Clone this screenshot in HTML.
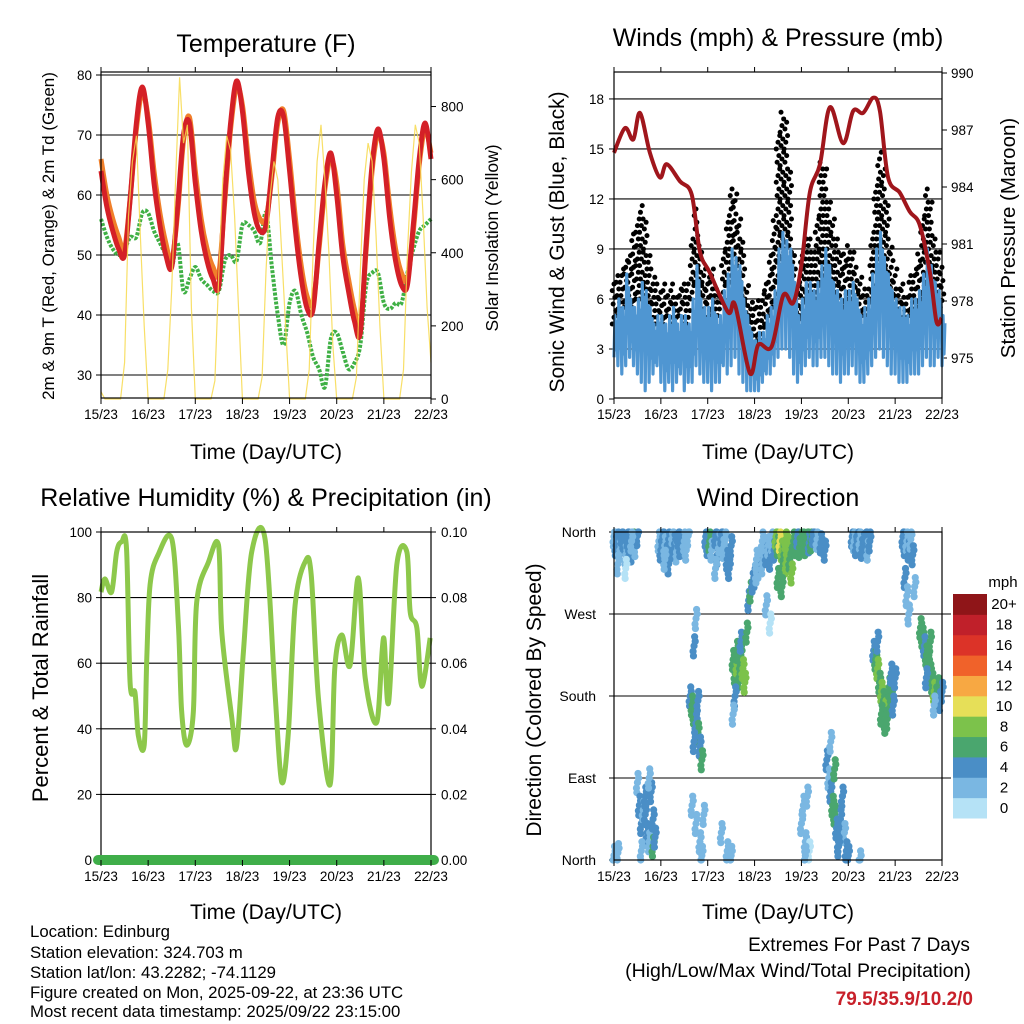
<!DOCTYPE html>
<html><head><meta charset="utf-8"><style>
body{margin:0;background:#fff;}
svg{display:block;font-family:"Liberation Sans",sans-serif;}
</style></head><body>
<svg id="s" width="1024" height="1024" viewBox="0 0 1024 1024">
<text x="266" y="52" font-size="25" text-anchor="middle">Temperature (F)</text>
<text x="778" y="46" font-size="25" text-anchor="middle">Winds (mph) &amp; Pressure (mb)</text>
<text x="266" y="506" font-size="25" text-anchor="middle">Relative Humidity (%) &amp; Precipitation (in)</text>
<text x="778" y="506" font-size="25" text-anchor="middle">Wind Direction</text>
<text x="266" y="459" font-size="21" text-anchor="middle">Time (Day/UTC)</text>
<text x="778" y="459" font-size="21" text-anchor="middle">Time (Day/UTC)</text>
<text x="266" y="919" font-size="21" text-anchor="middle">Time (Day/UTC)</text>
<text x="778" y="919" font-size="21" text-anchor="middle">Time (Day/UTC)</text>
<text transform="translate(54,236) rotate(-90)" font-size="17" text-anchor="middle">2m &amp; 9m T (Red, Orange) &amp; 2m Td (Green)</text>
<text transform="translate(498,238) rotate(-90)" font-size="17.5" text-anchor="middle">Solar Insolation (Yellow)</text>
<text transform="translate(564,242) rotate(-90)" font-size="21" text-anchor="middle">Sonic Wind &amp; Gust (Blue, Black)</text>
<text transform="translate(1015,238) rotate(-90)" font-size="20.5" text-anchor="middle">Station Pressure (Maroon)</text>
<text transform="translate(48,688) rotate(-90)" font-size="22" text-anchor="middle">Percent &amp; Total Rainfall</text>
<text transform="translate(541,700) rotate(-90)" font-size="21" text-anchor="middle">Direction (Colored By Speed)</text>
<g font-size="16.8">
<text x="30" y="937">Location: Edinburg</text>
<text x="30" y="958">Station elevation: 324.703 m</text>
<text x="30" y="978">Station lat/lon: 43.2282; -74.1129</text>
<text x="30" y="998">Figure created on Mon, 2025-09-22, at 23:36 UTC</text>
<text x="30" y="1017">Most recent data timestamp: 2025/09/22 23:15:00</text>
</g>
<text x="859" y="951" font-size="19" text-anchor="middle">Extremes For Past 7 Days</text>
<text x="798" y="977" font-size="19.5" text-anchor="middle">(High/Low/Max Wind/Total Precipitation)</text>
<text x="973" y="1005" font-size="19" font-weight="bold" fill="#c8202a" text-anchor="end">79.5/35.9/10.2/0</text>
<text x="1003" y="587" font-size="15" text-anchor="middle">mph</text>
</svg>
<script>
const dayLabels=["15/23","16/23","17/23","18/23","19/23","20/23","21/23","22/23"];
const tempTicks=[30,40,50,60,70,80];
const solarTicks=[0,200,400,600,800];
const windTicks=[0,3,6,9,12,15,18];
const presTicks=[975,978,981,984,987,990];
const rhTicks=[0,20,40,60,80,100];
const rainTickLabels=["0.00","0.02","0.04","0.06","0.08","0.10"];
const dirTicks=[0,90,180,270,360];
const dirTickLabels=["North","East","South","West","North"];
const legendLabels=["0","2","4","6","8","10","12","14","16","18","20+"];
const legendColors=["#b5e2f6","#7ab7e2","#4a8ec6","#4aa66e","#7cc24b","#e6df58","#f7a843","#f0622a","#dc3328","#c0202a","#8f1518"];
const tempRed=[64,58,54,51,50,60,72,78,72,62,55,50,48,58,70,72,62,54,49,46,45,60,72,79,74,64,57,54,55,64,73,73,64,54,46,41,41,52,62,67,60,50,44,39,37,52,65,71,66,56,49,45,45,55,66,72,66];
const tempOrange=[66,60,56,53,51,60,71,77,73,64,57,52,49,57,69,73,64,56,51,48,47,59,71,78,75,66,59,56,56,63,72,74,66,56,48,43,42,51,61,66,62,52,46,41,38,51,64,70,67,58,51,47,46,54,65,71,67];
const dewGreen=[56,53,51,50,51,53,53,57,57,54,52,50,48,52,44,46,48,46,45,44,44,49,50,49,55,55,54,52,57,48,40,35,42,44,40,37,33,31,28,36,37,34,31,32,35,45,47,47,42,41,42,42,47,51,54,55,56];
const solar=[20,0,0,0,0,0,100,500,650,720,450,200, 0,0,0,0,0,80,300,600,880,700,750,250, 0,0,0,0,0,50,350,600,720,680,500,250, 0,0,0,0,0,60,350,550,650,600,400,200, 0,0,0,0,0,80,400,650,750,600,400,150, 0,0,0,0,0,60,350,600,700,650,450,200, 0,0,0,0,0,80,400,620,750,700,500,250, 100];
const blueLo=[2.5,2,1.5,2,2.5,2, 1.5,1,0.5,1,1.5,2, 1,0.5,1,0.5,1,1.5, 0.5,1,1,2,1.5,1, 1,0.5,1,1,2,1.5, 2,2.5,1.5,1,0.5,0.5, 0.5,0.5,1,1.5,1.5,2, 2.5,3,3,2.5,1.5,1, 1.5,2,2.5,2,2,2.5, 2.5,2,1.5,1.5,1,1.5, 1.5,2,1.5,1,1,1.5, 2,2.5,3,2.5,2,1.5, 1.5,1,1,1,1.5,1.5, 1.5,2,2.5,2,2,2.5,2];
const blueHi=[5,6,5.5,7.5,6,5.5, 6,7,6.5,5.5,4.5,5, 5,4.5,5,5.5,4.5,5, 5,4.5,6,8,6,5.5, 5.5,6,5,5,6.5,7.5, 9,8.5,8,6,5,4, 3.5,4,4,5,5.5,6.5, 9,10,9.5,9,7,5, 6,7,7,6.5,7,8, 9,8,7,6.5,6,6.5, 6.5,7,6,5,5.5,6, 7.5,9,10,8.5,7.5,6.5, 6,5.5,5.5,5,6,6, 6.5,7.5,9,8,7,6.5,5];
const gustLo=[4.5,5,5,5.5,5,5.5, 6,6,5,5,4.5,4.5, 4,4.5,5,4.5,4.5,5, 4.5,4.5,6,7,6,5, 4.5,5,5,5,6,7, 7,7.5,6,5,4,3, 3,3.5,3.5,4.5,5,5.5, 7,8,9,8,5,4, 5,6,6,6,6,7, 7,7,6,6,5,5.5, 6,6,5.5,4.5,5,5, 6,8,8,7,6,5.5, 5,5,4.5,4.5,5,5, 5.5,6,7,7,6,6,5.5];
const gustHi=[7,7.5,8,8.5,9,10, 11,12,11,9,7.5,7, 6.5,7,6.5,7,6.5,7, 7,7,10,11.5,9.5,8, 7.5,8,7,6.5,9,11, 13,12.5,11,9.5,7,6, 5.5,6,6.5,7,9,11, 16,17.5,17,14,9,7, 9,10,10,9,11,14.5, 14,12,11,10,9,9, 9.5,9,8,7.5,7,7, 10,13,15,14,12,9.5, 8,7,7,6.5,7.5,8, 9,11,13,12,10,9,8];
const presHours=[0,5.6,9.9,13.3,18.4,23.5,27,33.8,39.8,44,49,58.5,62,69.6,73.9,80.7,86.7,91.8,96,100.3,105.5,110.6,117.4,122.5,127.6,132.8,136.2,140.4,146.4,151.5,156.6,161.8,165.2,167.7];
const presVals=[985.8,987.1,986.5,987.9,985.8,984.5,985.2,984.3,983.6,980.6,979.5,977.4,977.8,974.2,975.7,975.6,978.3,977.9,979.9,983.7,985.2,988.2,986.3,988,987.9,988.7,988,984.5,983.7,982.7,982,979.5,976.9,977.1];
const rhHours=[0,2,5.4,8,10.5,13,14.8,17.3,19,22,23.3,25,29,36,39.4,41,43.6,47,48.7,54.7,59.8,61.5,66.6,69,72.5,76.7,83.5,88.6,92,95.4,98.8,104,107,110.7,116.6,119,122.6,126.8,131,134.5,140.4,143.8,146.4,150.6,155.7,157.4,160.8,163.3,167.6];
const rhVals=[81.7,85.7,81.7,94,97,95,54,51,38,35,61.6,84,93,98,71.6,46,35,45,78.6,90.8,96,69.5,43.3,34.5,63.4,93.9,98,51,23.8,39,77.7,91,87,49.4,22.9,58.5,68.6,59.4,86,55.5,42,67.7,48,90,94,75.6,70.7,53,67.7];
const rainVals=[0,0];
const wdH=[0,1,2,3,4,5,6,7,8,9,10,11,12,2,6,9, 12,13,14,15,16,17,18,19,20,14,16,18,20,21,0,2, 23,24,25,26,27,28,29,30,31,32,33,34,36,37,38,28,26, 39,40,41,42,43,44,45,41,43,40,42,44,46,45,41,42, 47,48,49,50,52,53,54,55,56,57,58,59,60,52,55,58,60, 61,62,63,64,65,66,67,63,65,62,61,68, 69,70,71,72,73,74,75,76,77,78,79,80,81,82,73,76,78,80, 83,84,85,86,87,88,89,90,91,84,86,88,92,93,94,96,95, 97,98,99,100,101,102,104,106,108,96,97,98,99,100,98, 109,110,111,112,113,114,115,116,117,118,119,120,113,115,111, 122,123,124,125,126,127,128,129,130,131,126, 133,134,135,136,137,138,139,140,141,142,143,144,135,137,139,142, 148,149,150,151,152,153,149,150,151,154, 157,158,159,160,161,162,163,164,165,166,167,168,160,162,164];
const wdDir=[355,345,352,340,358,348,335,355,345,338,352,344,356,325,320,350, 85,60,40,55,70,30,20,75,45,10,50,90,15,25,5,8, 350,340,355,345,335,352,342,358,347,338,355,344,350,340,356,325,330, 180,170,160,150,140,125,110,130,175,60,40,20,50,5,235,265, 355,345,350,340,356,335,348,358,342,352,330,320,345,320,30,10,5, 220,205,215,200,225,210,195,230,240,180,160,250, 285,295,305,310,315,320,330,325,340,335,345,330,350,340,330,350,280,260, 355,345,350,340,335,325,345,330,315,310,300,352,350,345,355,350,343, 352,345,355,348,350,357,352,348,340,40,60,20,70,10,5, 110,90,75,60,50,35,20,45,70,30,10,5,100,15,130, 355,350,345,358,352,342,348,355,340,350,0, 230,220,210,195,185,175,165,155,190,180,170,200,240,160,150,205, 355,345,350,340,352,335,310,290,270,300, 255,245,235,225,215,205,195,185,180,190,175,185,200,240,170];
const wdSpd=[3,4,4,3,5,4,3,4,5,4,6,3,4,2,1,2, 3,4,4,3,4,4,3,4,5,3,4,2,6,4,3,2, 3,4,4,3,4,4,5,2,4,3,4,4,2,3,2,4,2, 4,6,6,4,7,5,6,4,5,2,3,2,3,3,4,3, 4,4,6,3,4,4,3,4,3,2,4,4,4,2,2,2,2, 6,6,8,7,6,8,8,6,5,4,3,6, 4,6,5,4,3,2,4,3,2,4,3,4,2,4,2,2,2,1, 8,7,10,8,7,8,9,6,8,6,7,8,6,6,5,6,6, 6,6,6,5,6,4,3,4,4,2,2,2,2,1,2, 4,3,4,7,6,5,4,4,4,3,4,4,7,4,2, 4,3,4,4,3,4,5,4,2,4,2, 5,6,8,7,8,7,8,7,6,6,5,4,4,6,7,4, 4,4,3,4,3,4,4,3,2,2, 6,6,5,6,7,6,6,8,6,6,5,4,4,6,3];

const NS="http://www.w3.org/2000/svg";
const svg=document.getElementById('s');
function mk(tag,attrs,parent){const e=document.createElementNS(NS,tag);for(const k in attrs)e.setAttribute(k,attrs[k]);(parent||svg).appendChild(e);return e;}
function txt(x,y,s,anchor,size,parent){const t=mk('text',{x:x,y:y,'font-size':size||13.5,'text-anchor':anchor||'middle'},parent);t.textContent=s;return t;}
function panel(name){
  const g=mk('g',{});
  
  
  return g;
}
function frame(g,x0,x1,y0,y1){
  const r=mk('rect',{x:x0,y:y0,width:x1-x0,height:y1-y0,fill:'none',stroke:'#000','stroke-width':1.2},g);
  
  
}
function xAxis(g,xf,y0,y1){
  for(let d=0;d<8;d++){const x=xf(d*24);
    mk('line',{x1:x,x2:x,y1:y1,y2:y1+6,stroke:'#000'},g);
    mk('line',{x1:x,x2:x,y1:y0,y2:y0-5,stroke:'#000'},g);
    const t=txt(x,y1+21,dayLabels[d],'middle',13.5,g);
    
    
  }
}
function pts(xs,ys){return xs.map((v,i)=>v.toFixed(1)+','+ys[i].toFixed(1)).join(' ');}
function smooth(xs,ys){let d='M'+xs[0].toFixed(1)+','+ys[0].toFixed(1);
  for(let i=0;i<xs.length-1;i++){const i0=Math.max(0,i-1),i3=Math.min(xs.length-1,i+2);
    const c1x=xs[i]+(xs[i+1]-xs[i0])/6,c1y=ys[i]+(ys[i+1]-ys[i0])/6;
    const c2x=xs[i+1]-(xs[i3]-xs[i])/6,c2y=ys[i+1]-(ys[i3]-ys[i])/6;
    d+=' C'+c1x.toFixed(1)+','+c1y.toFixed(1)+' '+c2x.toFixed(1)+','+c2y.toFixed(1)+' '+xs[i+1].toFixed(1)+','+ys[i+1].toFixed(1);}
  return d;}

// ---------- Temperature ----------
{
 const X0=101,X1=431,Y0=72,Y1=398;
 const x=h=>X0+h*(X1-X0)/168, y=T=>75+(80-T)*6, ys=s=>399-s*0.3656;
 const g=panel('temperature-panel');
 tempTicks.forEach(T=>{mk('line',{x1:X0,x2:X1,y1:y(T),y2:y(T),stroke:'#000','stroke-width':1.1},g);
   mk('line',{x1:X0-5,x2:X0,y1:y(T),y2:y(T),stroke:'#000'},g);
   const t=txt(X0-9,y(T)+5,String(T),'end',13.5,g);});
 solarTicks.forEach(s=>{mk('line',{x1:X1,x2:X1+5,y1:ys(s),y2:ys(s),stroke:'#000'},g);
   const t=txt(X1+10,ys(s)+5,String(s),'start',13.5,g);});
 const h3=tempRed.map((_,i)=>i*3), h2=solar.map((_,i)=>i*2);
 const gr=mk('path',{d:smooth(h3.map(x),dewGreen.map(y)),fill:'none',stroke:'#3fb045','stroke-width':4,'stroke-dasharray':'3 1.5'},g);
 
 const o=mk('path',{d:smooth(h3.map(x),tempOrange.map(y)),fill:'none',stroke:'#f07f2a','stroke-width':5},g);
 
 const r=mk('path',{d:smooth(h3.map(x),tempRed.map(y)),fill:'none',stroke:'#d42027','stroke-width':5},g);
 
 const s=mk('polyline',{points:pts(h2.map(x),solar.map(ys)),fill:'none',stroke:'#f7d94c','stroke-width':1.2,opacity:0.85},g);
 
 frame(g,X0,X1,Y0,Y1);xAxis(g,x,Y0,Y1);
}
// ---------- Winds ----------
{
 const X0=614,X1=942,Y0=72,Y1=398;
 const x=h=>X0+h*(X1-X0)/168, y=s=>399-s*16.67, yp=p=>358-(p-975)*19;
 const g=panel('winds-panel');
 windTicks.forEach(v=>{if(v>0)mk('line',{x1:X0,x2:X1,y1:y(v),y2:y(v),stroke:'#000','stroke-width':1.1},g);
   mk('line',{x1:X0-5,x2:X0,y1:y(v),y2:y(v),stroke:'#000'},g);
   const t=txt(X0-10,y(v)+5,String(v),'end',13.5,g);});
 presTicks.forEach(p=>{mk('line',{x1:X1,x2:X1+5,y1:yp(p),y2:yp(p),stroke:'#000'},g);
   const t=txt(X1+9,yp(p)+5,String(p),'start',13.5,g);});
 const gg=mk('g',{fill:'#000'},g);
 
 gustLo.forEach((lo,i)=>{const hi=gustHi[i];
   for(let v=lo,k=0;v<=hi;v+=0.4,k++){mk('circle',{cx:x(i*2+((k*7)%5)*0.45-0.9),cy:y(v),r:2.5},gg);}});
 const bp=[];
 blueLo.forEach((lo,i)=>{const hi=blueHi[i],t=i*2;
   bp.push([x(t),y(lo)],[x(t+0.5),y(hi)],[x(t+1),y((lo+hi)/2-0.8)],[x(t+1.5),y(hi*0.85+lo*0.15)]);});
 const b=mk('polyline',{points:bp.map(p=>p[0].toFixed(1)+','+p[1].toFixed(1)).join(' '),fill:'none',stroke:'#4f96d2','stroke-width':3.2,'stroke-linejoin':'round'},g);
 
 const p=mk('path',{d:smooth(presHours.map(x),presVals.map(yp)),fill:'none',stroke:'#a0161c','stroke-width':4},g);
 
 frame(g,X0,X1,Y0,Y1);xAxis(g,x,Y0,Y1);
}
// ---------- RH ----------
{
 const X0=101,X1=431,Y0=532,Y1=860;
 const x=h=>X0+h*(X1-X0)/168, y=r=>860-r*3.28;
 const g=panel('humidity-panel');
 rhTicks.forEach((v,i)=>{if(v>0&&v<100)mk('line',{x1:X0,x2:X1,y1:y(v),y2:y(v),stroke:'#000','stroke-width':1.1},g);
   mk('line',{x1:X0-5,x2:X0,y1:y(v),y2:y(v),stroke:'#000'},g);
   mk('line',{x1:X1,x2:X1+5,y1:y(v),y2:y(v),stroke:'#000'},g);
   const t=txt(X0-9,y(v)+5,String(v),'end',13.5,g);
   const t2=txt(X1+10,y(v)+5,rainTickLabels[i],'start',13.5,g);});
 const l=mk('path',{d:smooth(rhHours.map(x),rhVals.map(y)),fill:'none',stroke:'#8dc84b','stroke-width':5},g);
 
 frame(g,X0,X1,Y0,Y1);
 const rl=mk('line',{x1:x(0)-3,x2:x(168)+3,y1:y(rainVals[0]*1000),y2:y(rainVals[1]*1000),stroke:'#3fae49','stroke-width':10,'stroke-linecap':'round'},g);
 
 xAxis(g,x,Y0,Y1);
}
// ---------- Wind direction ----------
{
 const X0=614,X1=942,Y0=532,Y1=860;
 const x=h=>X0+h*(X1-X0)/168, y=d=>860-d*(328/360);
 const g=panel('wind-direction-panel');
 dirTicks.forEach((d,i)=>{mk('line',{x1:X0,x2:(d>0&&d<360)?951:X1,y1:y(d),y2:y(d),stroke:'#000','stroke-width':1.1},g);
   mk('line',{x1:X0-5,x2:X0,y1:y(d),y2:y(d),stroke:'#000'},g);
   const t=txt(X0-18,y(d)+5,dirTickLabels[i],'end',14,g);});
 const pg=mk('g',{},g);
 
 const offs=[[0,0],[0.6,5],[-0.5,-6],[0.3,10],[-0.3,-11]];
 wdH.forEach((h,i)=>{const c=legendColors[Math.min(10,Math.floor(wdSpd[i]/2))];
   offs.forEach(o=>{const d=Math.max(0,Math.min(360,wdDir[i]+o[1]));
     mk('circle',{cx:x(h+o[0]),cy:y(d),r:3.6,fill:c},pg);});});
 frame(g,X0,X1,Y0,Y1);xAxis(g,x,Y0,Y1);
 const lg=mk('g',{},svg);
 
 const bh=224/11;
 legendColors.forEach((c,i)=>{const top=818-(i+1)*bh;
   const r=mk('rect',{x:953,y:top,width:34,height:bh+0.5,fill:c},lg);
   
   const t=txt(1004,top+bh/2+5,legendLabels[i],'middle',15,lg);
   });
}
</script>
</body></html>
